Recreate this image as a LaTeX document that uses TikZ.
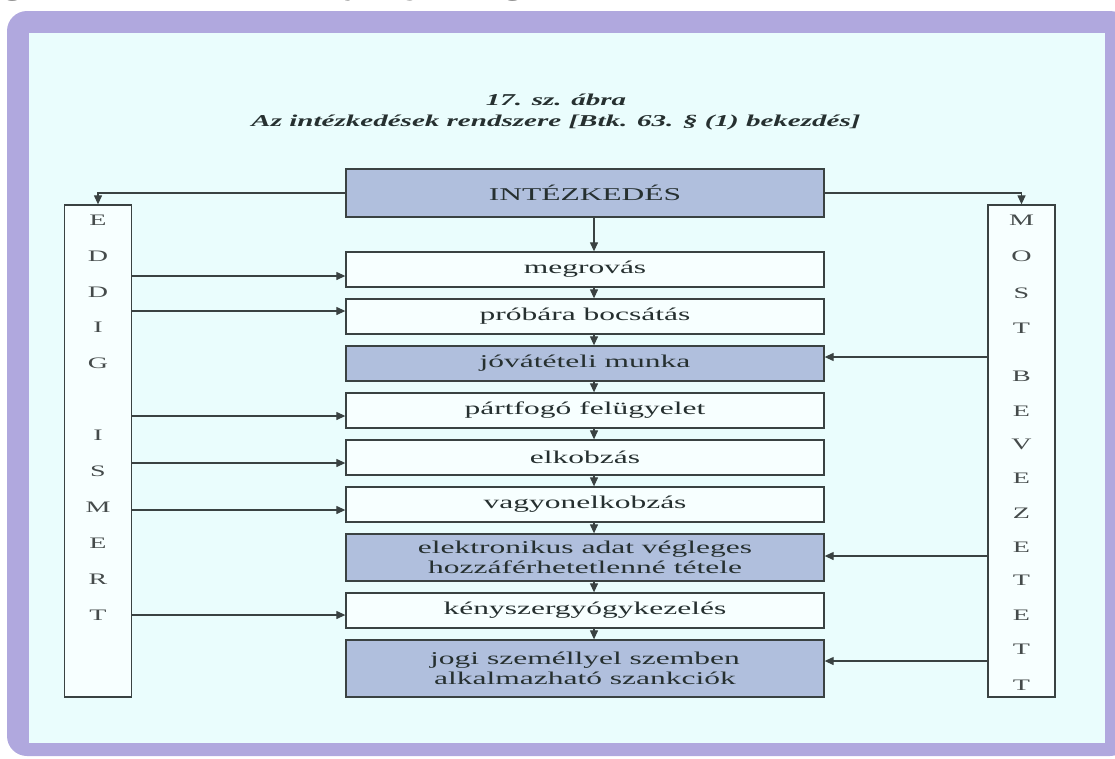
\documentclass[tikz,border=0pt]{standalone}
\usepackage{fontspec}
\setmainfont{Liberation Serif}
\newfontfamily\wideserif[FakeStretch=1.75]{Liberation Serif}
\usetikzlibrary{arrows.meta}
\definecolor{framepurple}{HTML}{B0A8DE}
\definecolor{bgcyan}{HTML}{EAFDFD}
\definecolor{boxwhite}{HTML}{F7FFFF}
\definecolor{boxblue}{HTML}{B0BFDD}
\definecolor{linegray}{HTML}{3A4242}
\definecolor{txtdark}{HTML}{263030}
\definecolor{lettergray}{HTML}{454B4B}
\begin{document}
\begin{tikzpicture}[x=1pt,y=-1pt,
  mainbox/.style={draw=linegray, line width=1.3pt, fill=boxwhite, minimum width=478pt, minimum height=35pt, inner sep=0pt, align=center, text=txtdark, font=\wideserif\fontsize{18}{20}\selectfont},
  bluebox/.style={mainbox, fill=boxblue},
  sidebox/.style={draw=linegray, line width=1.3pt, fill=boxwhite, minimum width=67pt, minimum height=492pt, inner sep=0pt},
  sideletter/.style={text=lettergray, font=\wideserif\fontsize{16}{16}\selectfont, inner sep=0pt},
  titletext/.style={text=txtdark, font=\wideserif\bfseries\itshape\fontsize{16.6}{18}\selectfont, inner sep=0pt},
  headfrag/.style={text=black, font=\wideserif\bfseries\fontsize{20}{20}\selectfont, inner sep=0pt, anchor=base},
  conn/.style={draw=linegray, line width=1.2pt, -{Triangle[length=9pt,width=8pt]}},
]
\useasboundingbox (0,0) rectangle (1115,758);
\begin{scope}
  \clip (0,0) rectangle (1115,758);
  \fill[framepurple, rounded corners=20pt] (7,11) rectangle (1130,756);
  \fill[bgcyan] (29,33) rectangle (1105,743);
\end{scope}
\begin{scope}
  \clip (0,0) rectangle (1115,10);
  \node[headfrag] (h1) at (13,-4) {g};
  \node[headfrag] (h2) at (353,-4) {y};
  \node[headfrag] (h3) at (413,-4) {j};
  \node[headfrag] (h4) at (513,-4) {g};
\end{scope}

\node[titletext] (t1) at (556,100) {17. sz. ábra};
\node[titletext] (t2) at (556,122) {Az intézkedések rendszere [Btk. 63. § (1) bekezdés]};

\node[bluebox, minimum height=48pt] (intez) at (585,193) {INTÉZKEDÉS};
\node[mainbox] (megrovas) at (585,269.5) {megrovás};
\node[mainbox] (probara) at (585,316.5) {próbára bocsátás};
\node[bluebox] (jovat) at (585,363.5) {jóvátételi munka};
\node[mainbox] (partfogo) at (585,410.5) {pártfogó felügyelet};
\node[mainbox] (elkobzas) at (585,457.5) {elkobzás};
\node[mainbox] (vagyon) at (585,504.5) {vagyonelkobzás};
\node[bluebox, minimum height=47pt] (elektr) at (585,557.5) {elektronikus adat végleges\\hozzáférhetetlenné tétele};
\node[mainbox] (kenyszer) at (585,610.5) {kényszergyógykezelés};
\node[bluebox, minimum height=57pt] (jogi) at (585,668.5) {jogi személlyel szemben\\alkalmazható szankciók};

\node[sidebox] (eddig) at (98,451) {};
\node[sidebox] (most) at (1021.5,451) {};

\foreach \c/\yy [count=\i] in {E/220, D/256, D/292, I/327, G/363, I/435, S/471, M/507, E/543, R/579, T/615}
  \node[sideletter] (L\i) at (98,\yy) {\c};
\foreach \c/\yy [count=\i] in {M/220, O/256, S/293, T/328, B/376, E/411, V/444, E/478, Z/513, E/547, T/580, E/615, T/649, T/685}
  \node[sideletter] (R\i) at (1021.5,\yy) {\c};

\draw[conn] (intez.west) -| (eddig.north);
\draw[conn] (intez.east) -| (most.north);

\foreach \a/\b in {intez/megrovas, megrovas/probara, probara/jovat, jovat/partfogo, partfogo/elkobzas, elkobzas/vagyon, vagyon/elektr, elektr/kenyszer, kenyszer/jogi}
  \draw[conn] ([xshift=9pt]\a.south) -- ([xshift=9pt]\b.north);

\foreach \t/\s in {megrovas/-6.5, probara/5.5, partfogo/-5.5, elkobzas/-5.5, vagyon/-5.5, kenyszer/-4.5}{
  \coordinate (tmp) at ([yshift=\s pt]\t.west);
  \draw[conn] (tmp -| eddig.east) -- (tmp);
}
\foreach \t/\s in {jovat/6.5, elektr/1.5, jogi/7.5}{
  \coordinate (tmp) at ([yshift=\s pt]\t.east);
  \draw[conn] (tmp -| most.west) -- (tmp);
}
\end{tikzpicture}
\end{document}
